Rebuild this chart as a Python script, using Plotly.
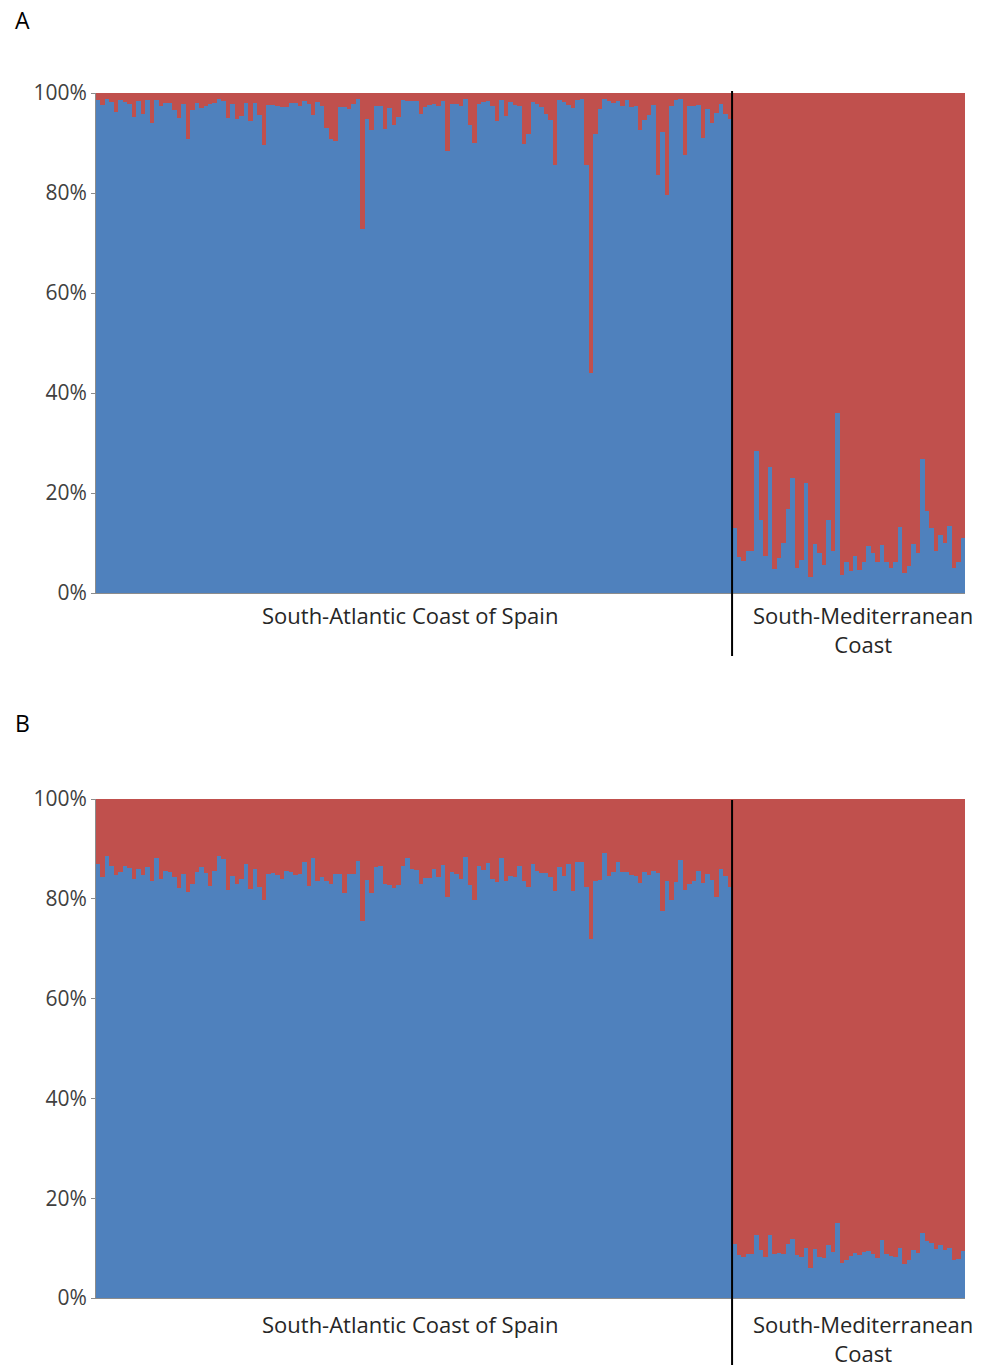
import plotly.graph_objects as go

# Membership proportions (%) for cluster 1 (blue); cluster 2 (red) = 100 - blue
atl_A = [98.6, 97.7, 98.9, 98.3, 96.3, 98.6, 98.3, 97.9, 95.3, 98.4,
         95.9, 98.6, 94.1, 98.6, 97.5, 98.1, 98.1, 96.6, 95.1, 97.9,
         90.9, 96.6, 98.1, 97.1, 97.5, 97.9, 98.1, 98.9, 98.4, 95.1,
         97.9, 94.9, 95.5, 98.1, 94.4, 98.1, 95.6, 89.6, 97.6, 97.6,
         97.5, 97.3, 97.3, 98.1, 98.1, 97.5, 98.4, 97.9, 95.7, 98.3,
         97.5, 93.1, 90.9, 90.4, 97.3, 97.3, 96.8, 97.9, 98.8, 72.8,
         94.9, 92.6, 97.5, 97.5, 92.9, 97.1, 93.6, 95.3, 98.6, 98.4,
         98.4, 98.4, 95.9, 97.3, 97.7, 97.9, 97.5, 98.4, 88.4, 97.9,
         97.9, 97.5, 98.8, 93.7, 90.1, 97.9, 98.3, 98.4, 97.5, 94.4,
         98.6, 95.5, 98.3, 97.7, 97.5, 89.9, 91.9, 98.3, 97.9, 97.3,
         95.9, 94.6, 85.6, 98.6, 98.3, 97.7, 97.1, 98.6, 98.8, 85.6,
         44.0, 91.9, 96.9, 98.8, 98.4, 98.1, 98.4, 97.5, 98.6, 97.3,
         97.5, 92.6, 94.6, 95.7, 97.7, 83.7, 92.3, 79.7, 97.5, 98.6,
         98.8, 87.6, 97.5, 97.5, 97.7, 91.1, 96.8, 94.1, 96.1, 97.9,
         95.9, 94.8]
med_A = [13.1, 7.2, 6.5, 8.4, 8.4, 28.5, 14.6, 7.4, 25.2, 4.8,
         7.0, 10.0, 16.8, 23.0, 5.0, 6.6, 22.0, 3.2, 9.8, 8.0,
         5.6, 14.6, 8.4, 36.0, 3.6, 6.3, 4.4, 7.4, 4.7, 6.3,
         9.4, 8.1, 6.3, 9.6, 6.3, 5.0, 6.3, 13.3, 4.0, 5.5,
         9.8, 8.1, 26.8, 16.5, 13.1, 8.4, 11.7, 10.0, 13.5, 5.0,
         6.3, 11.0]
atl_B = [86.9, 84.3, 88.6, 86.6, 84.8, 85.3, 86.6, 86.1, 83.9, 85.9,
         84.8, 86.4, 83.5, 88.1, 83.9, 85.6, 85.3, 84.4, 82.1, 84.9,
         81.3, 82.9, 85.3, 86.4, 85.1, 82.6, 85.5, 88.6, 87.9, 81.7,
         84.6, 82.9, 83.9, 86.9, 81.9, 85.9, 82.3, 79.7, 84.9, 85.1,
         84.8, 83.9, 85.6, 85.3, 84.7, 84.9, 87.3, 82.6, 88.1, 83.5,
         84.4, 83.6, 82.9, 84.9, 84.9, 81.1, 84.9, 84.9, 87.6, 75.6,
         83.7, 81.1, 86.4, 86.6, 82.9, 82.8, 82.1, 82.8, 86.6, 88.1,
         85.9, 85.7, 82.9, 84.1, 84.1, 85.9, 84.3, 86.8, 80.3, 85.3,
         84.9, 83.9, 88.4, 82.8, 79.7, 86.6, 85.7, 87.1, 83.9, 83.3,
         88.1, 83.5, 84.6, 84.4, 86.6, 83.6, 82.3, 86.9, 85.6, 85.1,
         85.1, 84.3, 81.6, 86.4, 84.6, 86.9, 81.6, 87.3, 87.3, 82.3,
         71.9, 83.6, 83.7, 89.1, 84.6, 85.3, 87.3, 85.3, 85.3, 84.8,
         84.6, 83.1, 85.3, 84.8, 85.6, 85.1, 77.5, 83.6, 79.7, 83.3,
         87.7, 81.7, 82.9, 83.5, 85.6, 83.1, 84.9, 83.7, 80.3, 85.9,
         84.6, 82.3]
med_B = [10.9, 8.6, 8.3, 8.9, 8.9, 12.6, 9.6, 8.3, 12.6, 8.9,
         9.1, 8.8, 10.9, 11.9, 8.6, 8.3, 10.1, 6.1, 9.9, 8.3,
         8.1, 10.6, 9.3, 15.1, 7.1, 7.7, 8.4, 9.1, 8.6, 9.3,
         9.5, 8.9, 8.1, 11.6, 8.8, 8.5, 8.3, 10.1, 6.8, 7.6,
         9.7, 9.1, 13.1, 11.5, 11.1, 9.9, 10.6, 9.7, 10.1, 7.7,
         7.9, 9.5]

group_labels = ["South-Atlantic Coast of Spain", "South-Mediterranean<br>Coast"]
panel_labels = ["A", "B"]
tick_vals = [0, 20, 40, 60, 80, 100]
tick_text = ["0%", "20%", "40%", "60%", "80%", "100%"]

BLUE = "#4F81BD"
RED = "#C0504D"
FONT = "Open Sans"

W, H = 989, 1368
def px(xp):
    return xp / W
def py(yp):
    return 1 - yp / H

fig = go.Figure()

panels = [(atl_A, med_A, "x", "y"), (atl_B, med_B, "x2", "y2")]
for atl, med, xa, ya in panels:
    blue = atl + med
    red = [round(100 - v, 2) for v in blue]
    xs = list(range(len(blue)))
    fig.add_trace(go.Bar(x=xs, y=blue, marker=dict(color=BLUE, line=dict(width=0)),
                         xaxis=xa, yaxis=ya, showlegend=False, hoverinfo="skip"))
    fig.add_trace(go.Bar(x=xs, y=red, marker=dict(color=RED, line=dict(width=0)),
                         xaxis=xa, yaxis=ya, showlegend=False, hoverinfo="skip"))

n_total = len(atl_A) + len(med_A)
split = len(atl_A) - 0.5

xdomain = [px(96), px(965)]
yA = [py(593), py(93)]
yB = [py(1298), py(799)]

common_x = dict(range=[-0.5, n_total - 0.5], showticklabels=False, ticks="",
                showgrid=False, zeroline=False, showline=True, automargin=False,
                linecolor="#8C8C8C", linewidth=1, domain=xdomain)
common_y = dict(range=[0, 100], tickmode="array", tickvals=tick_vals, ticktext=tick_text,
                ticks="outside", ticklen=4, tickcolor="#8C8C8C", automargin=False,
                showgrid=False, zeroline=False, showline=True,
                linecolor="#8C8C8C", linewidth=1,
                tickfont=dict(family=FONT, size=21, color="#404040"))

fig.update_layout(
    template="none",
    width=W, height=H, autosize=False,
    margin=dict(l=0, r=0, t=0, b=0, pad=0, autoexpand=False),
    paper_bgcolor="white", plot_bgcolor="white",
    barmode="stack", bargap=0, showlegend=False,
    xaxis=dict(**common_x, anchor="y"),
    yaxis=dict(**common_y, domain=yA, anchor="x"),
    xaxis2=dict(**common_x, anchor="y2"),
    yaxis2=dict(**common_y, domain=yB, anchor="x2"),
)

shapes = []
# Divider lines between groups
for xr, (y0p, y1p) in [("x", (656, 91)), ("x2", (1365, 800))]:
    shapes.append(dict(type="line", xref=xr, yref="paper", x0=split, x1=split,
                       y0=py(y0p), y1=py(y1p), line=dict(color="black", width=2)))
fig.update_layout(shapes=shapes)

annotations = []
for lbl, ytop, ylab in [("A", 20, 615), ("B", 723, 1324)]:
    annotations.append(dict(text=lbl, xref="paper", yref="paper", x=px(22), y=py(ytop),
                            showarrow=False, xanchor="center", yanchor="middle",
                            font=dict(family=FONT, size=23, color="black")))
    annotations.append(dict(text=group_labels[0], xref="paper", yref="paper",
                            x=px(410), y=py(ylab), showarrow=False,
                            xanchor="center", yanchor="middle",
                            font=dict(family=FONT, size=22, color="#262626")))
    annotations.append(dict(text=group_labels[1], xref="paper", yref="paper",
                            x=px(863), y=py(ylab - 17), showarrow=False,
                            xanchor="center", yanchor="top",
                            font=dict(family=FONT, size=22, color="#262626")))
fig.update_layout(annotations=annotations)

fig.write_html("out.html", config={"displayModeBar": False, "staticPlot": True})

# remove default page margins so the figure fills the window exactly
with open("out.html", "r", encoding="utf-8") as f:
    html = f.read()
html = html.replace("<head>", "<head><style>html,body{margin:0;padding:0;overflow:hidden;}</style>", 1)
with open("out.html", "w", encoding="utf-8") as f:
    f.write(html)
